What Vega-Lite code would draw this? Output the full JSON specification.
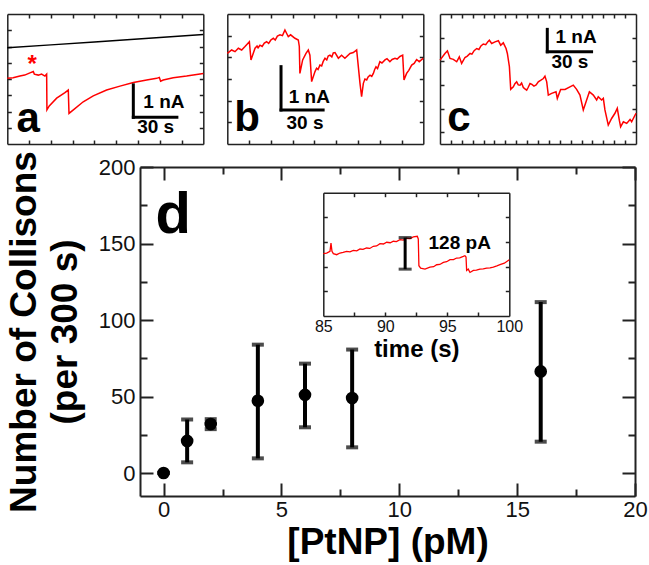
{
  "$schema": "https://vega.github.io/schema/vega-lite/v6.json",
  "width": 649,
  "height": 565,
  "autosize": "none",
  "padding": 0,
  "background": "white",
  "config": {
    "view": {"stroke": null},
    "font": "Liberation Sans",
    "axis": {"grid": false, "domainColor": "#222", "tickColor": "#222", "labelColor": "#111", "titleColor": "#000", "labelFont": "Liberation Sans", "titleFont": "Liberation Sans", "titleFontWeight": "bold", "labelFlush": false, "labelOverlap": false}
  },
  "datasets": {
    "a_black": [{"t":0,"i":2.96},{"t":30,"i":3.05},{"t":60,"i":3.14},{"t":90,"i":3.23},{"t":120,"i":3.32},{"t":135,"i":3.37}],
    "a_red": [{"t":0,"i":2.02},{"t":4,"i":2.04},{"t":8.7,"i":2.09},{"t":12,"i":2.12},{"t":15.6,"i":2.19},{"t":17.9,"i":2.23},{"t":18.6,"i":2.15},{"t":21.4,"i":2.12},{"t":23.6,"i":2.15},{"t":25.9,"i":2.09},{"t":27.1,"i":2.15},{"t":27.3,"i":1.05},{"t":28.9,"i":1.17},{"t":34,"i":1.41},{"t":39.7,"i":1.58},{"t":42,"i":1.66},{"t":42.5,"i":0.94},{"t":45.5,"i":1.05},{"t":52.3,"i":1.3},{"t":59.2,"i":1.48},{"t":68.4,"i":1.66},{"t":77.6,"i":1.78},{"t":86.8,"i":1.89},{"t":96,"i":1.97},{"t":102.9,"i":2.02},{"t":104.7,"i":2.05},{"t":105.6,"i":1.93},{"t":107.4,"i":1.97},{"t":114.3,"i":2.04},{"t":123.5,"i":2.09},{"t":135,"i":2.17}],
    "a_bar": [{"x1":86.8,"x2":86.8,"y1":0.82,"y2":1.82},{"x1":86.8,"x2":116.8,"y1":0.82,"y2":0.82}],
    "a_txt": [{"t":107.9,"i":1.3,"s":"1 nA"},{"t":102.2,"i":0.51,"s":"30 s"}],
    "a_lbl": [{"t":14.4,"i":0.38,"s":"a"}],
    "a_star": [{"t":17.2,"i":2.42,"s":"*"}],
    "b_red": [{"t":0,"i":2.09},{"t":3,"i":2.17},{"t":5.3,"i":2.13},{"t":7.6,"i":2.21},{"t":9.9,"i":2.17},{"t":12.2,"i":2.25},{"t":15.2,"i":2.36},{"t":16.3,"i":1.94},{"t":19.1,"i":2.21},{"t":20.5,"i":2.26},{"t":21.2,"i":2.22},{"t":22.5,"i":2.28},{"t":24,"i":2.25},{"t":25.5,"i":2.33},{"t":27.1,"i":2.36},{"t":28.5,"i":2.32},{"t":30,"i":2.4},{"t":31.7,"i":2.44},{"t":33,"i":2.4},{"t":34.5,"i":2.49},{"t":36.3,"i":2.52},{"t":38,"i":2.5},{"t":39.7,"i":2.63},{"t":40.9,"i":2.55},{"t":42,"i":2.48},{"t":43.6,"i":2.52},{"t":46.6,"i":2.44},{"t":48.9,"i":2.4},{"t":49.6,"i":2.25},{"t":50,"i":1.63},{"t":51.9,"i":1.94},{"t":54.2,"i":2.09},{"t":55.8,"i":2.17},{"t":56.9,"i":2.05},{"t":58.1,"i":1.44},{"t":60.4,"i":1.67},{"t":61.5,"i":1.75},{"t":62.5,"i":1.72},{"t":63.8,"i":1.82},{"t":65,"i":1.8},{"t":66,"i":1.9},{"t":67.3,"i":1.98},{"t":68.5,"i":1.94},{"t":69.5,"i":2.03},{"t":70.7,"i":2.05},{"t":72,"i":2.01},{"t":73,"i":2.1},{"t":74.2,"i":2.11},{"t":76.5,"i":1.98},{"t":78.7,"i":2.05},{"t":81,"i":1.98},{"t":84.5,"i":2.09},{"t":86.8,"i":2.11},{"t":89.1,"i":2.17},{"t":91.4,"i":1.4},{"t":92.5,"i":1.09},{"t":93.7,"i":1.4},{"t":94.8,"i":1.5},{"t":96,"i":1.48},{"t":97,"i":1.55},{"t":98.3,"i":1.59},{"t":99.5,"i":1.56},{"t":100.6,"i":1.63},{"t":101.5,"i":1.72},{"t":102.4,"i":1.78},{"t":103.5,"i":1.74},{"t":105.1,"i":1.9},{"t":106.5,"i":1.87},{"t":108.6,"i":1.94},{"t":110,"i":1.97},{"t":112,"i":1.9},{"t":113.5,"i":1.95},{"t":115.5,"i":1.98},{"t":117,"i":1.96},{"t":118.9,"i":2.02},{"t":120.8,"i":2.05},{"t":121.7,"i":1.48},{"t":123.5,"i":1.63},{"t":125,"i":1.7},{"t":127,"i":1.82},{"t":128.7,"i":1.86},{"t":130.4,"i":1.95},{"t":132.2,"i":1.9},{"t":135,"i":1.98}],
    "b_bar": [{"x1":37,"x2":37,"y1":0.785,"y2":1.785},{"x1":37,"x2":66,"y1":0.785,"y2":0.785}],
    "b_txt": [{"t":56.5,"i":1.09,"s":"1 nA"},{"t":53.5,"i":0.49,"s":"30 s"}],
    "b_lbl": [{"t":13.6,"i":0.31,"s":"b"}],
    "c_red": [{"t":0,"i":3.55},{"t":3.4,"i":3.83},{"t":5.1,"i":3.94},{"t":6.9,"i":3.62},{"t":9.2,"i":3.58},{"t":11.5,"i":3.48},{"t":13.3,"i":3.69},{"t":14.9,"i":3.41},{"t":17.2,"i":3.66},{"t":18.8,"i":3.72},{"t":20.7,"i":3.83},{"t":22,"i":3.8},{"t":23.5,"i":3.95},{"t":25.3,"i":4.04},{"t":26.8,"i":4.0},{"t":28.2,"i":4.15},{"t":29.8,"i":4.23},{"t":31.5,"i":4.2},{"t":33,"i":4.33},{"t":34,"i":4.39},{"t":35.6,"i":4.25},{"t":37.9,"i":4.32},{"t":40.2,"i":4.37},{"t":41.8,"i":4.18},{"t":43.6,"i":4.28},{"t":45.5,"i":4.04},{"t":46.4,"i":3.83},{"t":47.8,"i":3.27},{"t":48.7,"i":2.31},{"t":50.5,"i":2.42},{"t":51.6,"i":2.55},{"t":52.8,"i":2.63},{"t":53.9,"i":2.5},{"t":55.1,"i":2.49},{"t":56.2,"i":2.58},{"t":57.4,"i":2.39},{"t":58.5,"i":2.33},{"t":59.7,"i":2.28},{"t":60.8,"i":2.4},{"t":62,"i":2.56},{"t":63.3,"i":2.52},{"t":64.7,"i":2.45},{"t":66.2,"i":2.5},{"t":67.7,"i":2.63},{"t":69.5,"i":2.7},{"t":71.2,"i":2.77},{"t":72.3,"i":2.87},{"t":73.5,"i":2.63},{"t":74.6,"i":2.07},{"t":76.9,"i":2.14},{"t":79.9,"i":2.21},{"t":80.8,"i":1.93},{"t":83.1,"i":2.31},{"t":86.1,"i":2.31},{"t":89.5,"i":2.42},{"t":91.8,"i":2.49},{"t":94.1,"i":2.31},{"t":96.4,"i":2.07},{"t":98.7,"i":1.44},{"t":101,"i":1.86},{"t":102.9,"i":2.21},{"t":105.6,"i":2.07},{"t":107.9,"i":1.86},{"t":109,"i":2.0},{"t":111.3,"i":1.86},{"t":112.5,"i":1.93},{"t":113.6,"i":1.44},{"t":115.9,"i":0.8},{"t":118.2,"i":1.08},{"t":120.5,"i":1.3},{"t":122.1,"i":1.51},{"t":123.5,"i":1.01},{"t":124.4,"i":0.73},{"t":126.3,"i":0.94},{"t":128.6,"i":0.87},{"t":130.9,"i":1.04},{"t":132,"i":0.94},{"t":135,"i":1.3}],
    "c_bar": [{"x1":73.9,"x2":73.9,"y1":3.9,"y2":4.85},{"x1":73.9,"x2":104.4,"y1":3.9,"y2":3.9}],
    "c_txt": [{"t":93.7,"i":4.54,"s":"1 nA"},{"t":89.5,"i":3.48,"s":"30 s"}],
    "c_lbl": [{"t":13.1,"i":0.56,"s":"c"}],
    "coll": [{"c":0,"n":0,"lo":0,"hi":0},{"c":1,"n":21,"lo":7,"hi":35},{"c":2,"n":32,"lo":28.7,"hi":35.2},{"c":4,"n":47.2,"lo":9.6,"hi":83.9},{"c":6,"n":51.1,"lo":29.9,"hi":71.5},{"c":8,"n":49,"lo":16.8,"hi":80.7},{"c":16,"n":66.4,"lo":20.5,"hi":111.7}],
    "d_lbl": [{"c":0.41,"n":157,"s":"d"}],
    "inset": [{"t":85,"p":252.7},{"t":85.27,"p":255.4},{"t":85.54,"p":262.2},{"t":85.62,"p":296.2},{"t":85.7,"p":262.2},{"t":85.81,"p":252.7},{"t":86.08,"p":248.6},{"t":86.34,"p":255.4},{"t":86.6,"p":258},{"t":86.88,"p":262.2},{"t":87.15,"p":260},{"t":87.42,"p":266.3},{"t":87.7,"p":264},{"t":87.96,"p":271.7},{"t":88.2,"p":270},{"t":88.49,"p":275.8},{"t":88.75,"p":274},{"t":89.03,"p":282.6},{"t":89.3,"p":284},{"t":89.57,"p":293.5},{"t":89.85,"p":292},{"t":90.11,"p":298.9},{"t":90.4,"p":297},{"t":90.65,"p":303},{"t":90.9,"p":302},{"t":91.18,"p":309.8},{"t":91.45,"p":308},{"t":91.72,"p":315.2},{"t":92,"p":314},{"t":92.26,"p":320.7},{"t":92.58,"p":323.4},{"t":92.66,"p":312.5},{"t":92.71,"p":203.8},{"t":92.85,"p":194.3},{"t":93.2,"p":190.2},{"t":93.6,"p":198.4},{"t":93.9,"p":200},{"t":94.14,"p":207.9},{"t":94.4,"p":209},{"t":94.68,"p":217.4},{"t":94.95,"p":220},{"t":95.22,"p":228.3},{"t":95.5,"p":229},{"t":95.75,"p":235.1},{"t":96.0,"p":236},{"t":96.29,"p":241.8},{"t":96.42,"p":244.6},{"t":96.51,"p":239.1},{"t":96.56,"p":184.8},{"t":96.69,"p":190.2},{"t":96.83,"p":176.6},{"t":97.1,"p":184.8},{"t":97.35,"p":186},{"t":97.63,"p":190.2},{"t":97.9,"p":191},{"t":98.17,"p":194.3},{"t":98.45,"p":195},{"t":98.71,"p":198.4},{"t":99.0,"p":203},{"t":99.25,"p":207.9},{"t":99.6,"p":214},{"t":100,"p":228.3}],
    "inset_bar": [{"t":91.6,"lo":190,"hi":318}],
    "inset_txt": [{"t":96.0,"p":296,"s":"128 pA"}]
  },
  "layer": [
    {
      "layer": [
        {"data": {"name": "a_black"}, "mark": {"type": "line", "color": "#000", "strokeWidth": 1.5},
         "encoding": {
           "x": {"field": "t", "type": "quantitative", "scale": {"domain": [0, 135], "range": [7.3, 203.3], "nice": false, "zero": false},
                 "axis": {"orient": "top", "offset": -144, "values": [15,30,45,60,75,90,105,120], "labels": false, "tickSize": 4, "tickWidth": 1.5, "domainWidth": 1.5, "title": null}},
           "y": {"field": "i", "type": "quantitative", "scale": {"domain": [0, 4], "range": [144, 14], "nice": false, "zero": false},
                 "axis": {"orient": "right", "offset": -641.7, "values": [0.5,1,1.5,2,2.5,3,3.5], "labels": false, "tickSize": 4, "tickWidth": 1.5, "domainWidth": 1.5, "title": null}}}},
        {"data": {"name": "a_red"}, "mark": {"type": "line", "color": "#ff0000", "strokeWidth": 1.5},
         "encoding": {
           "x": {"field": "t", "type": "quantitative", "axis": {"orient": "bottom", "offset": -551, "values": [15,30,45,60,75,90,105,120], "labels": false, "tickSize": 4, "tickWidth": 1.5, "domainWidth": 1.5, "title": null}},
           "y": {"field": "i", "type": "quantitative", "axis": {"orient": "left", "offset": -203.3, "values": [0.5,1,1.5,2,2.5,3,3.5], "labels": false, "tickSize": 4, "tickWidth": 1.5, "domainWidth": 1.5, "title": null}}}},
        {"data": {"name": "a_bar"}, "mark": {"type": "rule", "color": "#000", "strokeWidth": 3, "strokeCap": "square"},
         "encoding": {"x": {"field": "x1", "type": "quantitative", "axis": null}, "x2": {"field": "x2"}, "y": {"field": "y1", "type": "quantitative", "axis": null}, "y2": {"field": "y2"}}},
        {"data": {"name": "a_txt"}, "mark": {"type": "text", "fontWeight": "bold", "fontSize": 19, "align": "center", "baseline": "middle", "color": "#000"},
         "encoding": {"x": {"field": "t", "type": "quantitative", "axis": null}, "y": {"field": "i", "type": "quantitative", "axis": null}, "text": {"field": "s"}}},
        {"data": {"name": "a_lbl"}, "mark": {"type": "text", "fontWeight": "bold", "fontSize": 42, "align": "center", "baseline": "alphabetic", "color": "#000"},
         "encoding": {"x": {"field": "t", "type": "quantitative", "axis": null}, "y": {"field": "i", "type": "quantitative", "axis": null}, "text": {"field": "s"}}},
        {"data": {"name": "a_star"}, "mark": {"type": "text", "fontWeight": "bold", "fontSize": 24, "align": "center", "baseline": "middle", "color": "#ff0000"},
         "encoding": {"x": {"field": "t", "type": "quantitative", "axis": null}, "y": {"field": "i", "type": "quantitative", "axis": null}, "text": {"field": "s"}}}
      ],
      "resolve": {"axis": {"x": "independent", "y": "independent"}}
    },
    {
      "layer": [
        {"data": {"name": "b_red"}, "mark": {"type": "line", "color": "#ff0000", "strokeWidth": 1.5},
         "encoding": {
           "x": {"field": "t", "type": "quantitative", "scale": {"domain": [0, 135], "range": [227.3, 423.3], "nice": false, "zero": false},
                 "axis": {"orient": "top", "offset": -144, "values": [15,30,45,60,75,90,105,120], "labels": false, "tickSize": 4, "tickWidth": 1.5, "domainWidth": 1.5, "title": null}},
           "y": {"field": "i", "type": "quantitative", "scale": {"domain": [0, 3], "range": [144, 14], "nice": false, "zero": false},
                 "axis": {"orient": "right", "offset": -421.7, "values": [0.5,1,1.5,2,2.5], "labels": false, "tickSize": 4, "tickWidth": 1.5, "domainWidth": 1.5, "title": null}}}},
        {"data": {"name": "b_bar"}, "mark": {"type": "rule", "color": "#000", "strokeWidth": 3, "strokeCap": "square"},
         "encoding": {"x": {"field": "x1", "type": "quantitative", "axis": {"orient": "bottom", "offset": -551, "values": [15,30,45,60,75,90,105,120], "labels": false, "tickSize": 4, "tickWidth": 1.5, "domainWidth": 1.5, "title": null}}, "x2": {"field": "x2"},
                      "y": {"field": "y1", "type": "quantitative", "axis": {"orient": "left", "offset": -423.3, "values": [0.5,1,1.5,2,2.5], "labels": false, "tickSize": 4, "tickWidth": 1.5, "domainWidth": 1.5, "title": null}}, "y2": {"field": "y2"}}},
        {"data": {"name": "b_txt"}, "mark": {"type": "text", "fontWeight": "bold", "fontSize": 19, "align": "center", "baseline": "middle", "color": "#000"},
         "encoding": {"x": {"field": "t", "type": "quantitative", "axis": null}, "y": {"field": "i", "type": "quantitative", "axis": null}, "text": {"field": "s"}}},
        {"data": {"name": "b_lbl"}, "mark": {"type": "text", "fontWeight": "bold", "fontSize": 42, "align": "center", "baseline": "alphabetic", "color": "#000"},
         "encoding": {"x": {"field": "t", "type": "quantitative", "axis": null}, "y": {"field": "i", "type": "quantitative", "axis": null}, "text": {"field": "s"}}}
      ],
      "resolve": {"axis": {"x": "independent", "y": "independent"}}
    },
    {
      "layer": [
        {"data": {"name": "c_red"}, "mark": {"type": "line", "color": "#ff0000", "strokeWidth": 1.5},
         "encoding": {
           "x": {"field": "t", "type": "quantitative", "scale": {"domain": [0, 135], "range": [440, 636], "nice": false, "zero": false},
                 "axis": {"orient": "top", "offset": -144, "values": [7.5,15,22.5,30,37.5,45,52.5,60,67.5,75,82.5,90,97.5,105,112.5,120,127.5], "labels": false, "tickSize": 4, "tickWidth": 1.5, "domainWidth": 1.5, "title": null}},
           "y": {"field": "i", "type": "quantitative", "scale": {"domain": [0, 5.5], "range": [144, 14], "nice": false, "zero": false},
                 "axis": {"orient": "right", "offset": -209, "values": [0.5,1.5,2.5,3.5,4.5], "labels": false, "tickSize": 4, "tickWidth": 1.5, "domainWidth": 1.5, "title": null}}}},
        {"data": {"name": "c_bar"}, "mark": {"type": "rule", "color": "#000", "strokeWidth": 3, "strokeCap": "square"},
         "encoding": {"x": {"field": "x1", "type": "quantitative", "axis": {"orient": "bottom", "offset": -551, "values": [7.5,15,22.5,30,37.5,45,52.5,60,67.5,75,82.5,90,97.5,105,112.5,120,127.5], "labels": false, "tickSize": 4, "tickWidth": 1.5, "domainWidth": 1.5, "title": null}}, "x2": {"field": "x2"},
                      "y": {"field": "y1", "type": "quantitative", "axis": {"orient": "left", "offset": -636, "values": [0.5,1.5,2.5,3.5,4.5], "labels": false, "tickSize": 4, "tickWidth": 1.5, "domainWidth": 1.5, "title": null}}, "y2": {"field": "y2"}}},
        {"data": {"name": "c_txt"}, "mark": {"type": "text", "fontWeight": "bold", "fontSize": 19, "align": "center", "baseline": "middle", "color": "#000"},
         "encoding": {"x": {"field": "t", "type": "quantitative", "axis": null}, "y": {"field": "i", "type": "quantitative", "axis": null}, "text": {"field": "s"}}},
        {"data": {"name": "c_lbl"}, "mark": {"type": "text", "fontWeight": "bold", "fontSize": 42, "align": "center", "baseline": "alphabetic", "color": "#000"},
         "encoding": {"x": {"field": "t", "type": "quantitative", "axis": null}, "y": {"field": "i", "type": "quantitative", "axis": null}, "text": {"field": "s"}}}
      ],
      "resolve": {"axis": {"x": "independent", "y": "independent"}}
    },
    {
      "layer": [
        {"data": {"name": "coll"}, "mark": {"type": "errorbar", "color": "#000", "rule": {"strokeWidth": 4}, "ticks": {"size": 12, "thickness": 4}},
         "encoding": {"x": {"field": "c", "type": "quantitative", "axis": null}, "y": {"field": "lo", "type": "quantitative", "axis": null}, "y2": {"field": "hi"}}},
        {"data": {"name": "coll"}, "mark": {"type": "circle", "size": 160, "color": "#000", "opacity": 1},
         "encoding": {
           "x": {"field": "c", "type": "quantitative", "scale": {"domain": [-1, 20], "range": [140, 635], "nice": false, "zero": false},
                 "axis": {"orient": "bottom", "offset": -69, "values": [0,5,10,15,20], "ticks": false, "tickSize": 0, "domainWidth": 2, "labelFontSize": 22, "labelPadding": 3, "title": "[PtNP] (pM)", "titleFontSize": 37, "titlePadding": 4}},
           "y": {"field": "n", "type": "quantitative", "scale": {"domain": [-15, 200], "range": [496, 167], "nice": false, "zero": false},
                 "axis": {"orient": "left", "offset": -140, "values": [0,50,100,150,200], "ticks": false, "tickSize": 0, "domainWidth": 2, "labelFontSize": 22, "labelPadding": 5, "title": ["Number of Collisons", "(per 300 s)"], "titleFontSize": 37, "titleLineHeight": 41, "titlePadding": 14}}}},
        {"data": {"name": "d_lbl"}, "mark": {"type": "text", "fontWeight": "bold", "fontSize": 58, "align": "center", "baseline": "alphabetic", "color": "#000"},
         "encoding": {
           "x": {"field": "c", "type": "quantitative", "axis": {"orient": "bottom", "offset": -398, "values": [0,5,10,15,20], "labels": false, "tickSize": 13, "tickWidth": 2, "domainWidth": 2, "title": null}},
           "y": {"field": "n", "type": "quantitative", "axis": {"orient": "left", "offset": -635, "values": [0,50,100,150,200], "labels": false, "tickSize": 13, "tickWidth": 2, "domainWidth": 2, "title": null}},
           "text": {"field": "s"}}},
        {"data": {"name": "coll"}, "mark": {"type": "point", "opacity": 0},
         "encoding": {
           "x": {"field": "c", "type": "quantitative", "axis": {"orient": "top", "offset": -496, "values": [0,5,10,15,20], "labels": false, "domain": false, "tickSize": 13, "tickWidth": 2, "title": null}},
           "y": {"field": "n", "type": "quantitative", "axis": {"orient": "right", "offset": -509, "values": [0,50,100,150,200], "labels": false, "domain": false, "tickSize": 13, "tickWidth": 2, "title": null}}}},
        {"data": {"name": "coll"}, "mark": {"type": "point", "opacity": 0},
         "encoding": {
           "x": {"field": "c", "type": "quantitative", "axis": {"orient": "top", "offset": -496, "values": [2.5,7.5,12.5,17.5], "labels": false, "domain": false, "tickSize": 7, "tickWidth": 2, "title": null}},
           "y": {"field": "n", "type": "quantitative", "axis": {"orient": "right", "offset": -509, "values": [25,75,125,175], "labels": false, "domain": false, "tickSize": 7, "tickWidth": 2, "title": null}}}},
        {"data": {"name": "coll"}, "mark": {"type": "point", "opacity": 0},
         "encoding": {
           "x": {"field": "c", "type": "quantitative", "axis": {"orient": "bottom", "offset": -398, "values": [2.5,7.5,12.5,17.5], "labels": false, "domain": false, "tickSize": 7, "tickWidth": 2, "title": null}},
           "y": {"field": "n", "type": "quantitative", "axis": {"orient": "left", "offset": -635, "values": [25,75,125,175], "labels": false, "domain": false, "tickSize": 7, "tickWidth": 2, "title": null}}}}
      ],
      "resolve": {"axis": {"x": "independent", "y": "independent"}}
    },
    {
      "layer": [
        {"data": {"name": "inset"}, "mark": {"type": "line", "color": "#ff0000", "strokeWidth": 1.3},
         "encoding": {
           "x": {"field": "t", "type": "quantitative", "scale": {"domain": [85, 100], "range": [323.3, 509.3], "nice": false, "zero": false},
                 "axis": {"orient": "bottom", "offset": -249, "values": [85,90,95,100], "ticks": false, "tickSize": 0, "domainWidth": 1.5, "labelFontSize": 16, "labelPadding": 2, "title": "time (s)", "titleFontSize": 24, "titlePadding": 3}},
           "y": {"field": "p", "type": "quantitative", "scale": {"domain": [0, 500], "range": [316, 192.7], "nice": false, "zero": false},
                 "axis": {"orient": "right", "offset": -325.7, "values": [100,200,300,400], "labels": false, "tickSize": 4, "tickWidth": 1.5, "domainWidth": 1.5, "title": null}}}},
        {"data": {"name": "inset_bar"}, "mark": {"type": "errorbar", "color": "#000", "rule": {"strokeWidth": 3}, "ticks": {"size": 13, "thickness": 3}},
         "encoding": {"x": {"field": "t", "type": "quantitative", "axis": null}, "y": {"field": "lo", "type": "quantitative", "axis": null}, "y2": {"field": "hi"}}},
        {"data": {"name": "inset_txt"}, "mark": {"type": "text", "fontWeight": "bold", "fontSize": 19, "align": "center", "baseline": "middle", "color": "#000"},
         "encoding": {
           "x": {"field": "t", "type": "quantitative", "axis": {"orient": "bottom", "offset": -372.3, "values": [87.5,90,92.5,95,97.5], "labels": false, "tickSize": 4, "tickWidth": 1.5, "domainWidth": 1.5, "title": null}},
           "y": {"field": "p", "type": "quantitative", "axis": {"orient": "left", "offset": -509.3, "values": [100,200,300,400], "labels": false, "tickSize": 4, "tickWidth": 1.5, "domainWidth": 1.5, "title": null}},
           "text": {"field": "s"}}},
        {"data": {"name": "inset"}, "mark": {"type": "point", "opacity": 0},
         "encoding": {
           "x": {"field": "t", "type": "quantitative", "axis": {"orient": "top", "offset": -316, "values": [87.5,90,92.5,95,97.5], "labels": false, "domain": false, "tickSize": 4, "tickWidth": 1.5, "title": null}},
           "y": {"field": "p", "type": "quantitative", "axis": null}}}
      ],
      "resolve": {"axis": {"x": "independent", "y": "independent"}}
    }
  ],
  "resolve": {"scale": {"x": "independent", "y": "independent"}}
}
